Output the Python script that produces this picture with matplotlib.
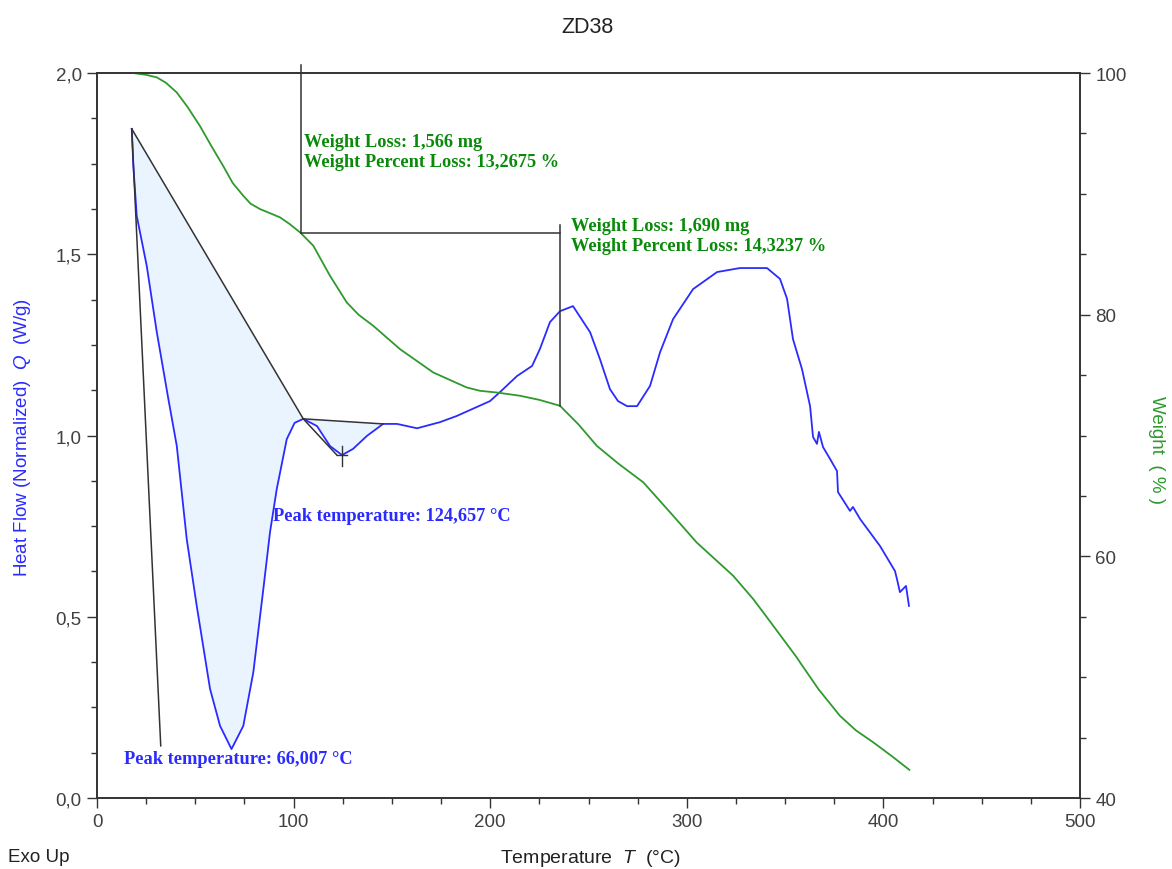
import numpy as np
import matplotlib
matplotlib.use('Agg')
import matplotlib.pyplot as plt
from matplotlib.ticker import MultipleLocator, FuncFormatter

plt.rcParams['font.family'] = ['Liberation Sans', 'DejaVu Sans']
plt.rcParams['mathtext.fontset'] = 'custom'
plt.rcParams['mathtext.it'] = 'Liberation Sans:italic'
plt.rcParams['mathtext.rm'] = 'Liberation Sans'

# DSC heat flow (W/g)
temp_hf = [17.65, 18.46, 20.19, 25.28, 30.37, 36.27, 40.54, 45.63, 50.71, 57.48,
           62.56, 68.4, 74.4, 79.5, 84.6, 88.0, 91.4, 96.5, 100.5, 104.9,
           111.9, 118.5, 124.6, 130.2, 137.3, 145.5, 152.6, 162.8, 174.5, 183.0,
           199.9, 205.0, 213.6, 221.3, 225.3, 230.4, 235.5, 242.1, 250.8, 255.8,
           260.9, 265.0, 269.6, 274.7, 281.3, 286.4, 293.0, 303.2, 315.4, 327.0,
           340.8, 347.4, 351.0, 354.0, 358.6, 362.7, 364.2, 366.2, 367.2, 369.3,
           372.9, 376.4, 376.9, 383.0, 384.5, 388.1, 398.3, 405.9, 406.9, 408.4,
           411.5, 413.0]
heat_flow = [1.846, 1.744, 1.606, 1.468, 1.286, 1.101, 0.972, 0.714, 0.530, 0.301,
             0.199, 0.135, 0.199, 0.347, 0.577, 0.734, 0.852, 0.990, 1.035, 1.046,
             1.026, 0.971, 0.946, 0.963, 0.999, 1.032, 1.032, 1.020, 1.037, 1.054,
             1.095, 1.120, 1.164, 1.192, 1.239, 1.313, 1.343, 1.357, 1.285, 1.211,
             1.128, 1.095, 1.081, 1.081, 1.137, 1.230, 1.321, 1.404, 1.451, 1.462,
             1.462, 1.432, 1.377, 1.266, 1.183, 1.081, 0.996, 0.977, 1.010, 0.968,
             0.935, 0.902, 0.844, 0.792, 0.803, 0.770, 0.695, 0.626, 0.604, 0.568,
             0.585, 0.530]

# TGA weight (%)
temp_w = [18.5, 25.0, 30.4, 35.0, 40.5, 46.0, 52.4, 58.0, 64.2, 69.0,
          74.4, 78.0, 82.9, 88.0, 93.1, 98.0, 103.3, 110.0, 118.5, 127.0,
          133.0, 140.5, 154.1, 171.0, 188.0, 194.8, 203.3, 215.2, 225.0, 235.5,
          245.0, 254.2, 265.0, 277.9, 293.1, 305.0, 323.6, 333.8, 338.9, 355.9,
          357.6, 367.0, 377.9, 386.0, 394.9, 404.0, 413.2]
weight = [100.0, 99.85, 99.64, 99.2, 98.4, 97.2, 95.6, 94.0, 92.3, 90.9,
          89.84, 89.2, 88.74, 88.4, 88.05, 87.5, 86.81, 85.71, 83.22, 81.02,
          80.0, 79.08, 77.15, 75.22, 73.98, 73.7, 73.56, 73.29, 72.95, 72.46,
          70.9, 69.15, 67.7, 66.12, 63.35, 61.15, 58.39, 56.46, 55.36, 51.64,
          51.22, 49.0, 46.8, 45.6, 44.6, 43.5, 42.33]

# peak analysis lines
peak1_base = ([17.65, 104.9], [1.846, 1.046])
peak1_onset = ([17.65, 32.4], [1.846, 0.144])
peak2_base = ([104.9, 145.5], [1.046, 1.032])
peak2_tan = ([104.9, 122.0], [1.046, 0.946])
peak2_T, peak2_Q = 124.657, 0.946

# weight loss steps
step_T = [103.8, 235.5]
step_W = [100.0, 86.7325, 72.409]

blue = '#2b2bff'
green = '#2e9a2e'
tgreen = '#0a8a0a'
dark = '#404040'

fig = plt.figure(figsize=(11.72, 8.70), dpi=100)
ax = fig.add_axes([0.0828, 0.0816, 0.8387, 0.8333])
ax2 = ax.twinx()

th = np.array(temp_hf)
hf = np.array(heat_flow)

# shaded peak areas
m1 = (th >= peak1_base[0][0]) & (th <= peak1_base[0][1])
b1 = np.interp(th[m1], peak1_base[0], peak1_base[1])
ax.fill_between(th[m1], hf[m1], b1, color='#eaf4fe', lw=0)
m2 = (th >= peak2_base[0][0]) & (th <= peak2_base[0][1])
b2 = np.interp(th[m2], peak2_base[0], peak2_base[1])
ax.fill_between(th[m2], hf[m2], b2, color='#eaf4fe', lw=0)

ax.plot(th, hf, color=blue, lw=1.3)
for xs, ys in [peak1_base, peak1_onset, peak2_base, peak2_tan]:
    ax.plot(xs, ys, color='#333333', lw=1.1)
ax.plot([peak2_T, peak2_T], [peak2_Q - 0.03, peak2_Q + 0.025], color='#333333', lw=1)
ax.plot([peak2_T - 2.5, peak2_T + 2.5], [peak2_Q, peak2_Q], color='#333333', lw=1)

ax2.plot(temp_w, weight, color=green, lw=1.3)
ax2.plot([step_T[0], step_T[0]], [100.65, step_W[1]], color='#333333', lw=1.1, clip_on=False)
ax2.plot([step_T[0], step_T[1]], [step_W[1], step_W[1]], color='#333333', lw=1.1)
ax2.plot([step_T[1], step_T[1]], [step_W[1] + 0.65, step_W[2]], color='#333333', lw=1.1)

ax.set_xlim(0, 500)
ax.set_ylim(0, 2.0)
ax2.set_ylim(40, 100)

comma = FuncFormatter(lambda v, p: ('%.1f' % v).replace('.', ','))
ax.yaxis.set_major_locator(MultipleLocator(0.5))
ax.yaxis.set_minor_locator(MultipleLocator(0.125))
ax.yaxis.set_major_formatter(comma)
ax.xaxis.set_major_locator(MultipleLocator(100))
ax.xaxis.set_minor_locator(MultipleLocator(25))
ax2.yaxis.set_major_locator(MultipleLocator(20))
ax2.yaxis.set_minor_locator(MultipleLocator(5))

for a in (ax, ax2):
    a.tick_params(which='major', length=7, width=1, color='#333333', labelsize=13.5, labelcolor=dark, pad=4)
    a.tick_params(which='minor', length=4, width=1, color='#333333')
    for s in a.spines.values():
        s.set_color('#333333')
        s.set_linewidth(1.2)

fig.text(0.019, 0.497, 'Heat Flow (Normalized)  $Q$  (W/g)', color=blue, fontsize=13.5,
         rotation=90, ha='center', va='center')
fig.text(0.987, 0.483, 'Weight  ( % )', color=green, fontsize=13.5,
         rotation=270, ha='center', va='center')
fig.text(0.5034, 0.0135, 'Temperature  $T$  (°C)', color='#222222', fontsize=14, ha='center', va='center')
fig.text(0.5015, 0.968, 'ZD38', ha='center', va='center', fontsize=15.5, color='#222222')
fig.text(0.007, 0.0148, 'Exo Up', ha='left', va='center', fontsize=13.5, color='#222222')

sf = dict(family=['Liberation Serif', 'DejaVu Serif'], weight='bold', fontsize=13.2)
ax2.text(105.5, 95.05, 'Weight Loss: 1,566 mg\nWeight Percent Loss: 13,2675 %',
         color=tgreen, va='top', ha='left', linespacing=1.25, **sf)
ax2.text(241, 88.1, 'Weight Loss: 1,690 mg\nWeight Percent Loss: 14,3237 %',
         color=tgreen, va='top', ha='left', linespacing=1.25, **sf)
ax.text(89.5, 0.78, 'Peak temperature: 124,657 °C', color=blue, va='center', ha='left', **sf)
ax.text(13.8, 0.11, 'Peak temperature: 66,007 °C', color=blue, va='center', ha='left', **sf)

fig.savefig('out.png', dpi=100)
